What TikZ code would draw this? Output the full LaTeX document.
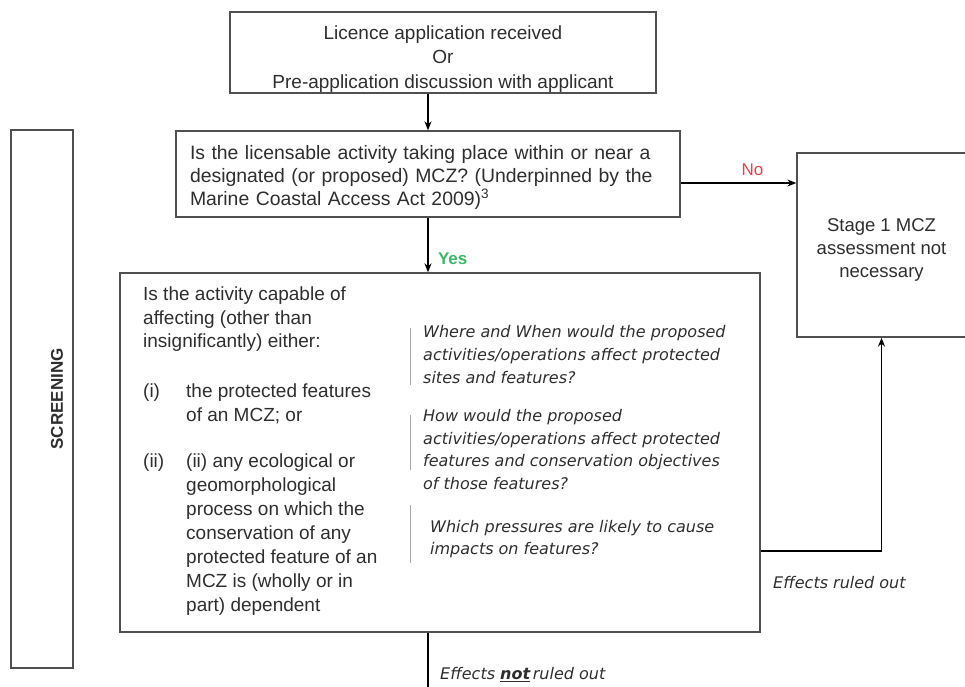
\documentclass[tikz,border=0pt]{standalone}
\usepackage{fontspec}
\setmainfont{Liberation Sans}
\newfontfamily\verdana{DejaVu Sans}
\usetikzlibrary{arrows.meta,calc}
\definecolor{txtgrey}{HTML}{2E2E2E}
\definecolor{linegrey}{HTML}{505050}
\definecolor{bargrey}{HTML}{A8A8A8}
\definecolor{nored}{HTML}{E8414B}
\definecolor{yesgreen}{HTML}{3DB86A}

\begin{document}
\begin{tikzpicture}[x=1pt,y=-1pt,
    box/.style={draw=linegrey,line width=1.3pt,inner sep=0pt,text=txtgrey},
    arr/.style={-{Stealth[length=9pt,width=7pt]},line width=1.5pt},
    bar/.style={draw=bargrey,line width=1pt},
    body/.style={font=\fontsize{19}{23.5}\selectfont,text=txtgrey,inner sep=0pt,anchor=north west,align=left},
    ital/.style={font=\verdana\itshape\fontsize{16}{23}\selectfont,text=txtgrey,inner sep=0pt,align=left}]

    \useasboundingbox (0,0) rectangle (965,686);
    \clip (0,0) rectangle (965,686);

    % Boxes of the flow (the rules push the text a little down)
    \node[box,minimum width=426,minimum height=81,align=center,font=\fontsize{19}{24.5}\selectfont] (licence) at (443,52.5) {\rule{0pt}{26pt}Licence application received\\Or\\Pre-application discussion with applicant};
    \node[box,minimum width=504,minimum height=86,text width=476,align=left,font=\fontsize{19.4}{23}\selectfont] (question) at (428,174) {\rule{0pt}{22pt}Is the licensable activity taking place within or near a\\designated (or proposed) MCZ? (Underpinned by the\\Marine Coastal Access Act 2009)\textsuperscript{3}};
    \node[box,minimum width=169,minimum height=184,align=center,font=\fontsize{18.5}{23}\selectfont] (stage) at (881.5,245) {\rule{0pt}{23pt}Stage 1 MCZ\\assessment not\\necessary};
    \node[box,minimum width=640,minimum height=359] (capable) at (440,452.5) {};

    % Screening band on the left
    \node[box,minimum width=62,minimum height=538] (screen) at (42,399) {};
    \node[font=\bfseries\fontsize{17}{19}\selectfont,text=txtgrey,rotate=90] (screenlbl) at (57,399) {SCREENING};

    % Text inside the big box
    \node[body] (intro) at (143,287) {Is the activity capable of\\affecting (other than\\insignificantly) either:};
    \node[body] (labi) at (143,384) {(i)};
    \node[body] (itemi) at (186,384) {the protected features\\of an MCZ; or};
    \node[body,font=\fontsize{19}{24}\selectfont] (labii) at (143,454) {(ii)};
    \node[body,font=\fontsize{19}{24}\selectfont] (itemii) at (186,454) {(ii) any ecological or\\geomorphological\\process on which the\\conservation of any\\protected feature of an\\MCZ is (wholly or in\\part) dependent};

    % Questions with grey bars
    \draw[bar] (410,328) -- (410,385);
    \draw[bar] (410,415) -- (410,470);
    \draw[bar] (410,505) -- (410,563);
    \node[ital,anchor=north west] (where) at (423,325) {Where and When would the proposed\\activities/operations affect protected\\sites and features?};
    \node[ital,anchor=north west,font=\verdana\itshape\fontsize{16}{22.7}\selectfont] (how) at (423,409) {How would the proposed\\activities/operations affect protected\\features and conservation objectives\\of those features?};
    \node[ital,anchor=north west,font=\verdana\itshape\fontsize{16}{22}\selectfont] (which) at (430,520) {Which pressures are likely to cause\\impacts on features?};

    % Connectors
    \draw[arr] (licence.south -| question.north) -- (question.north);
    \draw[arr] (question.east |- 0,183) -- (stage.west |- 0,183) node[pos=0.62,above=3pt,text=nored,font=\fontsize{17}{19}\selectfont] {No};
    \draw[arr] (question.south) -- (question.south |- capable.north) node[pos=0.75,right=6pt,text=yesgreen,font=\bfseries\fontsize{17}{19}\selectfont] {Yes};
    \draw[arr] (capable.east |- 0,551) -| (stage.south);
    \node[ital,anchor=west] (ruledout) at (773,583) {Effects ruled out};
    \coordinate (cut) at (428,690);
    \draw[line width=1.5pt] (capable.south -| question.south) -- (cut);
    \node[ital,anchor=west] (notruled) at (440,675) {Effects \underline{\textbf{not}}\,ruled out};

\end{tikzpicture}
\end{document}
